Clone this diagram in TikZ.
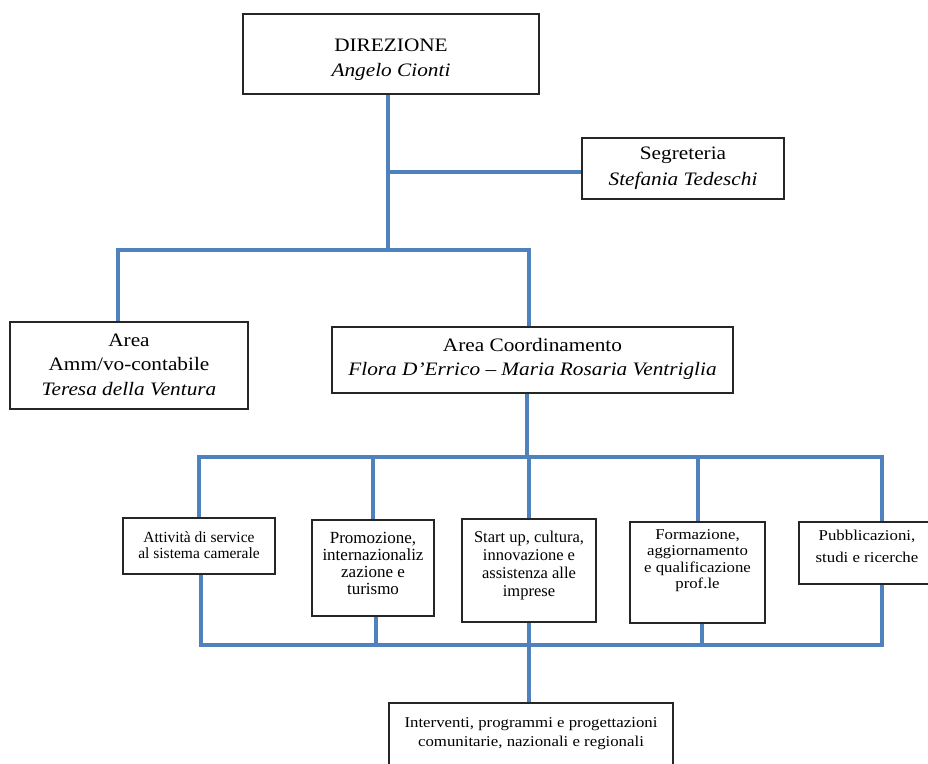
\documentclass[tikz,border=0pt]{standalone}
\usepackage{fontspec}
\setmainfont{Liberation Serif}
\newfontfamily\camb[FakeStretch=1.12]{Liberation Serif}
\definecolor{lineblue}{RGB}{79,129,189}
% #1 width, #2 height, #3 first baseline below top, #4 text
\newcommand\mybox[4]{\parbox[c][#2][t]{#1}{\centering\vspace*{\dimexpr#3-0.7\baselineskip\relax}\strut#4}}
\tikzset{
  box/.style={draw=black!85, line width=1.1pt, fill=white, inner sep=0pt},
  conn/.style={draw=lineblue, line width=4pt},
}
\begin{document}
\begin{tikzpicture}[x=1pt,y=-1pt]
\useasboundingbox (0,0) rectangle (928,763);
\clip (0,0) rectangle (928,763);
\fill[white] (0,0) rectangle (928,763);

% top level
\node[box,font=\camb\fontsize{19}{25}\selectfont] (dir) at (391,54)
  {\mybox{296pt}{80pt}{37pt}{DIREZIONE\\\textit{Angelo Cionti}}};
\node[box,font=\camb\fontsize{19}{26}\selectfont] (seg) at (683,168.5)
  {\mybox{202pt}{61pt}{21pt}{Segreteria\\\textit{Stefania Tedeschi}}};
\node[box,font=\camb\fontsize{19}{24.5}\selectfont] (area) at (129,365.5)
  {\mybox{238pt}{87pt}{24pt}{Area\\Amm/vo-contabile\\\textit{Teresa della Ventura}}};
\node[box,font=\camb\fontsize{19}{24}\selectfont] (coord) at (532.5,360)
  {\mybox{401pt}{66pt}{24pt}{Area Coordinamento\\\textit{Flora D’Errico – Maria Rosaria Ventriglia}}};

% middle level
\node[box,font=\fontsize{15.5}{16}\selectfont] (b1) at (199,546)
  {\mybox{152pt}{56pt}{24pt}{Attività di service\\al sistema camerale}};
\node[box,font=\fontsize{17}{16.7}\selectfont] (b2) at (373,568)
  {\mybox{122pt}{96pt}{23pt}{Promozione,\\internazionaliz\\zazione e\\turismo}};
\node[box,font=\fontsize{16.5}{18}\selectfont] (b3) at (529,570.5)
  {\mybox{134pt}{103pt}{23pt}{Start up, cultura,\\innovazione e\\assistenza alle\\imprese}};
\node[box,font=\camb\fontsize{15}{16.5}\selectfont] (b4) at (697.5,572.5)
  {\mybox{135pt}{101pt}{17pt}{Formazione,\\aggiornamento\\e qualificazione\\prof.le}};
\node[box,font=\camb\fontsize{15}{22}\selectfont] (b5) at (867,553)
  {\mybox{136pt}{62pt}{18pt}{Pubblicazioni,\\studi e ricerche}};

% bottom
\node[box,font=\camb\fontsize{15}{19}\selectfont] (bot) at (531,736.5)
  {\mybox{284pt}{67pt}{24pt}{Interventi, programmi e progettazioni\\comunitarie, nazionali e regionali}};

% connectors
\coordinate (hub) at (388,250);
\coordinate (sj) at (388,172);
\coordinate (hL) at (118,250);
\coordinate (hR) at (529,250);
\draw[conn] (dir.south -| hub) -- (hub);
\draw[conn] (sj) -- (sj -| seg.west);
\draw[conn] (hL |- area.north) -- (hL) -- (hR) -- (hR |- coord.north);

\coordinate (m3) at (527,457);
\coordinate (mL) at (199,457);
\coordinate (mR) at (882,457);
\draw[conn] (m3 |- coord.south) -- (m3);
\draw[conn] (mL |- b1.north) -- (mL) -- (mR) -- (mR |- b5.north);
\draw[conn] (b2.north) -- (b2.north |- mL);
\draw[conn] (b3.north) -- (b3.north |- mL);
\draw[conn] (b4.north) -- (b4.north |- mL);

\coordinate (nL) at (201,645);
\coordinate (nR) at (882,645);
\coordinate (n2) at (376,645);
\coordinate (n4) at (702,645);
\draw[conn] (nL |- b1.south) -- (nL) -- (nR) -- (nR |- b5.south);
\draw[conn] (n2 |- b2.south) -- (n2);
\draw[conn] (n4 |- b4.south) -- (n4);
\draw[conn] (b3.south) -- (b3.south |- bot.north);
\end{tikzpicture}
\end{document}
